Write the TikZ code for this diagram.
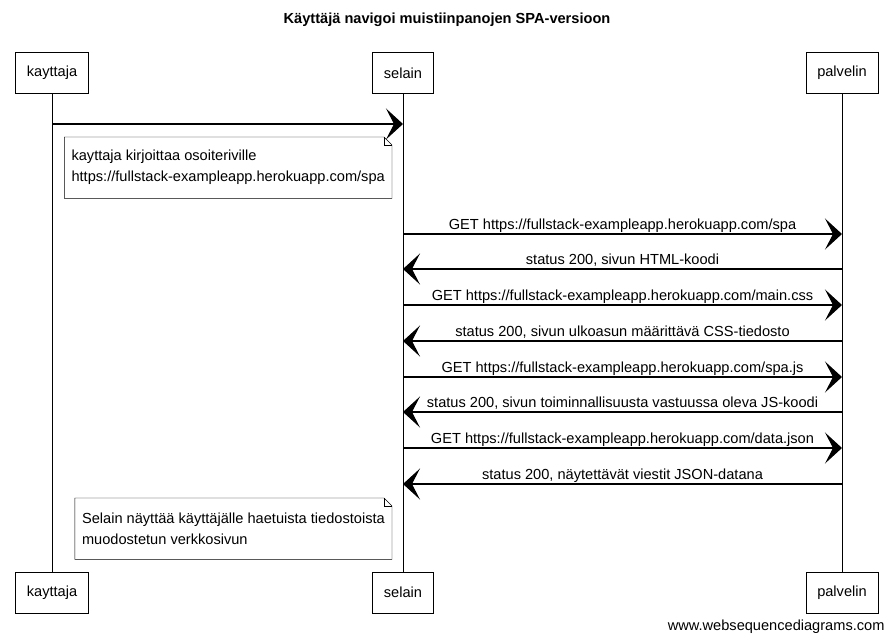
\documentclass[tikz,border=0pt]{standalone}
\usepackage{fontspec}
\setmainfont{Liberation Sans}
\usetikzlibrary{positioning, arrows.meta}
\tikzstyle{actor}=[draw,fill=white,rectangle,inner xsep=11.5pt,minimum height=41pt]
\tikzstyle{every node}=[font=\fontsize{14.6}{17.5}\selectfont]
\tikzstyle{msg}=[-{Stealth[length=17pt,width=31pt,inset=8pt]},line width=1.2pt]
\tikzstyle{lbl}=[above,text depth=3pt,inner sep=1pt]
\tikzstyle{note}=[align=left,inner xsep=7pt,minimum height=61pt,font=\fontsize{14.6}{21}\selectfont]
\newcommand{\dogear}[1]{%
  \draw (#1.north west) -- ([xshift=-8pt]#1.north east) -- ([yshift=-8pt]#1.north east)
    -- (#1.south east) -- (#1.south west) -- cycle;
  \draw ([xshift=-8pt]#1.north east) |- ([yshift=-8pt]#1.north east);}

\begin{document}
\begin{tikzpicture}[x=1pt, y=-1pt]
            \useasboundingbox (0,0) rectangle (892,639);
            \node[font=\fontsize{14.6}{17.5}\selectfont\bfseries] (title) at (447,20) {Käyttäjä navigoi muistiinpanojen SPA-versioon};
            \node[actor] (k) at (52,73) {kayttaja};
            \node[actor] (s) at (403,73) {selain};
            \node[actor] (p) at (842,73) {palvelin};
            \node[actor, below=478pt of k] (k2) {kayttaja};
            \node[actor, below=478pt of s] (s2) {selain};
            \node[actor, below=478pt of p] (p2) {palvelin};
            \draw[line width=.8pt] (k) -- (k2);
            \draw[line width=.8pt] (s) -- (s2);
            \draw[line width=.8pt] (p) -- (p2);
            % message rows
            \coordinate (m0) at (0,124);
            \coordinate (m1) at (0,234);
            \coordinate (m2) at (0,269);
            \coordinate (m3) at (0,305);
            \coordinate (m4) at (0,341);
            \coordinate (m5) at (0,377);
            \coordinate (m6) at (0,412);
            \coordinate (m7) at (0,448);
            \coordinate (m8) at (0,484);
            \draw[msg] (k |- m0) -- (s |- m0);
            \node[note, anchor=north east] (n1) at (392,137) {kayttaja kirjoittaa osoiteriville\\https://fullstack-exampleapp.herokuapp.com/spa};
            \dogear{n1}
            \draw[msg] (s |- m1) -- node[lbl] {GET https://fullstack-exampleapp.herokuapp.com/spa} (p |- m1);
            \draw[msg] (p |- m2) -- node[lbl] {status 200, sivun HTML-koodi} (s |- m2);
            \draw[msg] (s |- m3) -- node[lbl] {GET https://fullstack-exampleapp.herokuapp.com/main.css} (p |- m3);
            \draw[msg] (p |- m4) -- node[lbl] {status 200, sivun ulkoasun määrittävä CSS-tiedosto} (s |- m4);
            \draw[msg] (s |- m5) -- node[lbl] {GET https://fullstack-exampleapp.herokuapp.com/spa.js} (p |- m5);
            \draw[msg] (p |- m6) -- node[lbl] {status 200, sivun toiminnallisuusta vastuussa oleva JS-koodi} (s |- m6);
            \draw[msg] (s |- m7) -- node[lbl] {GET https://fullstack-exampleapp.herokuapp.com/data.json} (p |- m7);
            \draw[msg] (p |- m8) -- node[lbl] {status 200, näytettävät viestit JSON-datana} (s |- m8);
            \node[note, anchor=north east] (n2) at (392,498) {Selain näyttää käyttäjälle haetuista tiedostoista\\muodostetun verkkosivun};
            \dogear{n2}
            \node[anchor=base east] (wsd) at (888,630) {www.websequencediagrams.com};
        \end{tikzpicture}
\end{document}
